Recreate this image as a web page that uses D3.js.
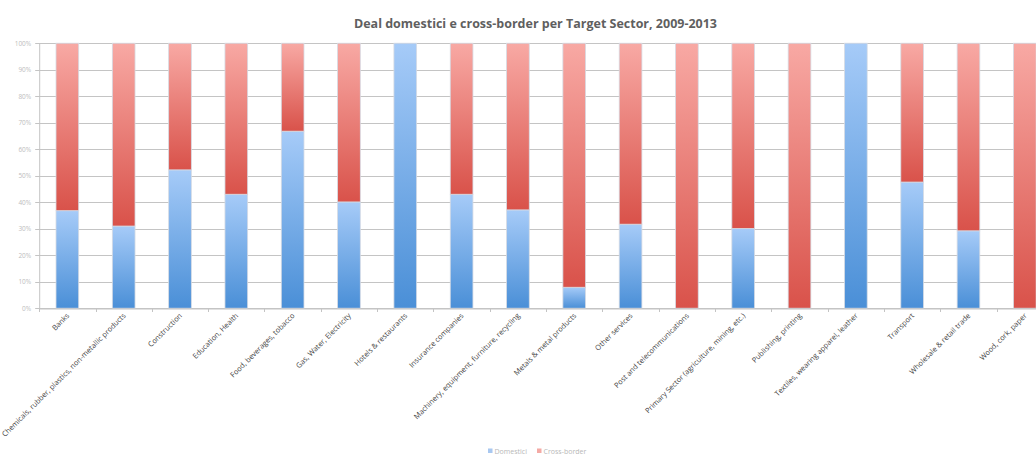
<!DOCTYPE html>
<html>
<head>
<meta charset="utf-8">
<script src="https://cdn.jsdelivr.net/npm/d3@7"></script>
<style>
  html, body { margin: 0; padding: 0; background: #fff; overflow: hidden; }
  svg { display: block; }
</style>
</head>
<body>
<svg id="chart" width="1036" height="455"></svg>
<script>
// Target sectors (x axis)
const sectors = [
  "Banks",
  "Chemicals, rubber, plastics, non-metallic products",
  "Construction",
  "Education, Health",
  "Food, beverages, tobacco",
  "Gas, Water, Electricity",
  "Hotels & restaurants",
  "Insurance companies",
  "Machinery, equipment, furniture, recycling",
  "Metals & metal products",
  "Other services",
  "Post and telecommunications",
  "Primary Sector (agriculture, mining, etc.)",
  "Publishing, printing",
  "Textiles, wearing apparel, leather",
  "Transport",
  "Wholesale & retail trade",
  "Wood, cork, paper"
];

// Share of domestic deals per sector (%)
const domestici = [36.8, 31.0, 52.2, 43.0, 66.8, 40.1, 100, 43.0, 37.1, 7.9, 31.7, 0, 30.1, 0, 100, 47.6, 29.2, 0];

// Share of cross-border deals per sector (%)
const crossBorder = domestici.map(v => 100 - v);

const seriesNames = ["Domestici", "Cross-border"];
const yTicks = [0, 10, 20, 30, 40, 50, 60, 70, 80, 90, 100];

const svg = d3.select("#chart");
const W = 1036, H = 455;
const plot = { left: 39.2, top: 43.2, bottom: 308.2 };
const step = 56.32;
const plotRight = plot.left + step * sectors.length;

const x = d3.scaleBand().domain(sectors).range([plot.left, plotRight]).paddingInner(0.597).paddingOuter(0.2985);
const y = d3.scaleLinear().domain([0, 100]).range([plot.bottom, plot.top]);

// Gradients
const defs = svg.append("defs");
function grad(id, top, bottom) {
  const g = defs.append("linearGradient").attr("id", id).attr("x1", 0).attr("y1", 0).attr("x2", 0).attr("y2", 1);
  g.append("stop").attr("offset", "0%").attr("stop-color", top);
  g.append("stop").attr("offset", "100%").attr("stop-color", bottom);
}
grad("gBlue", "#a6cbf8", "#4a8fd7");
grad("gRed", "#f8a9a4", "#d9524a");

// Title
svg.append("text")
  .attr("x", 535.5).attr("y", 27.5)
  .attr("text-anchor", "middle")
  .attr("font-family", "'Open Sans', sans-serif")
  .attr("font-weight", "bold")
  .attr("font-size", 12.5)
  .attr("fill", "#5f5f5f")
  .attr("textLength", 363).attr("lengthAdjust", "spacingAndGlyphs")
  .text("Deal domestici e cross-border per Target Sector, 2009-2013");

// Horizontal gridlines
svg.append("g").selectAll("line").data(yTicks).join("line")
  .attr("x1", plot.left - 4).attr("x2", W)
  .attr("y1", d => Math.round(y(d)) + 0.5).attr("y2", d => Math.round(y(d)) + 0.5)
  .attr("stroke", "#c4c4c4").attr("stroke-width", 1);

// Y axis
const yAxis = d3.axisLeft(y).tickValues(yTicks).tickFormat(d => d + "%").tickSize(0).tickPadding(8);
const gy = svg.append("g").attr("transform", `translate(${plot.left},0)`).call(yAxis);
gy.select(".domain").attr("stroke", "#c4c4c4");
gy.selectAll("text")
  .attr("font-family", "'Open Sans', sans-serif")
  .attr("font-size", 6.5)
  .attr("fill", "#bdbdbd");

// Bars
const stacks = sectors.map((s, i) => [
  { key: "d", y0: 0, y1: domestici[i], s },
  { key: "c", y0: domestici[i], y1: domestici[i] + crossBorder[i], s }
]).flat().filter(d => d.y1 - d.y0 > 0);

svg.append("g").selectAll("rect").data(stacks).join("rect")
  .attr("x", d => x(d.s))
  .attr("width", x.bandwidth())
  .attr("y", d => y(d.y1))
  .attr("height", d => y(d.y0) - y(d.y1))
  .attr("fill", d => d.key === "d" ? "url(#gBlue)" : "url(#gRed)")
  .attr("stroke", "#d6dbe4").attr("stroke-width", 0.8);

// X axis
const xAxis = d3.axisBottom(x).tickSize(0).tickFormat("");
const gx = svg.append("g").attr("transform", `translate(0,${Math.round(plot.bottom) + 0.5})`).call(xAxis);
gx.select(".domain").attr("stroke", "#c4c4c4");
// tick marks at category boundaries
svg.append("g").selectAll("line").data(d3.range(sectors.length + 1)).join("line")
  .attr("x1", i => Math.round(plot.left + i * step) + 0.5)
  .attr("x2", i => Math.round(plot.left + i * step) + 0.5)
  .attr("y1", Math.round(plot.bottom)).attr("y2", Math.round(plot.bottom) + 4)
  .attr("stroke", "#c4c4c4");

// Rotated category labels
svg.append("g").selectAll("text").data(sectors).join("text")
  .attr("transform", d => `translate(${x(d) + x.bandwidth() / 2 + 2.5},${plot.bottom + 8}) rotate(-45)`)
  .attr("text-anchor", "end")
  .attr("font-family", "'Open Sans', sans-serif")
  .attr("font-size", 7.4)
  .attr("fill", "#3f3f3f")
  .text(d => d);

// Legend
const legendColors = ["#a9c8f0", "#f4aaa5"];
const legendX = [488, 537];
const lg = svg.append("g");
seriesNames.forEach((n, i) => {
  lg.append("rect").attr("x", legendX[i]).attr("y", 448.5).attr("width", 4.5).attr("height", 4.5).attr("fill", legendColors[i]);
  lg.append("text").attr("x", legendX[i] + 6.5).attr("y", 454)
    .attr("font-family", "'Open Sans', sans-serif")
    .attr("font-size", 7).attr("fill", "#b8b8b8")
    .text(n);
});
</script>
</body>
</html>
